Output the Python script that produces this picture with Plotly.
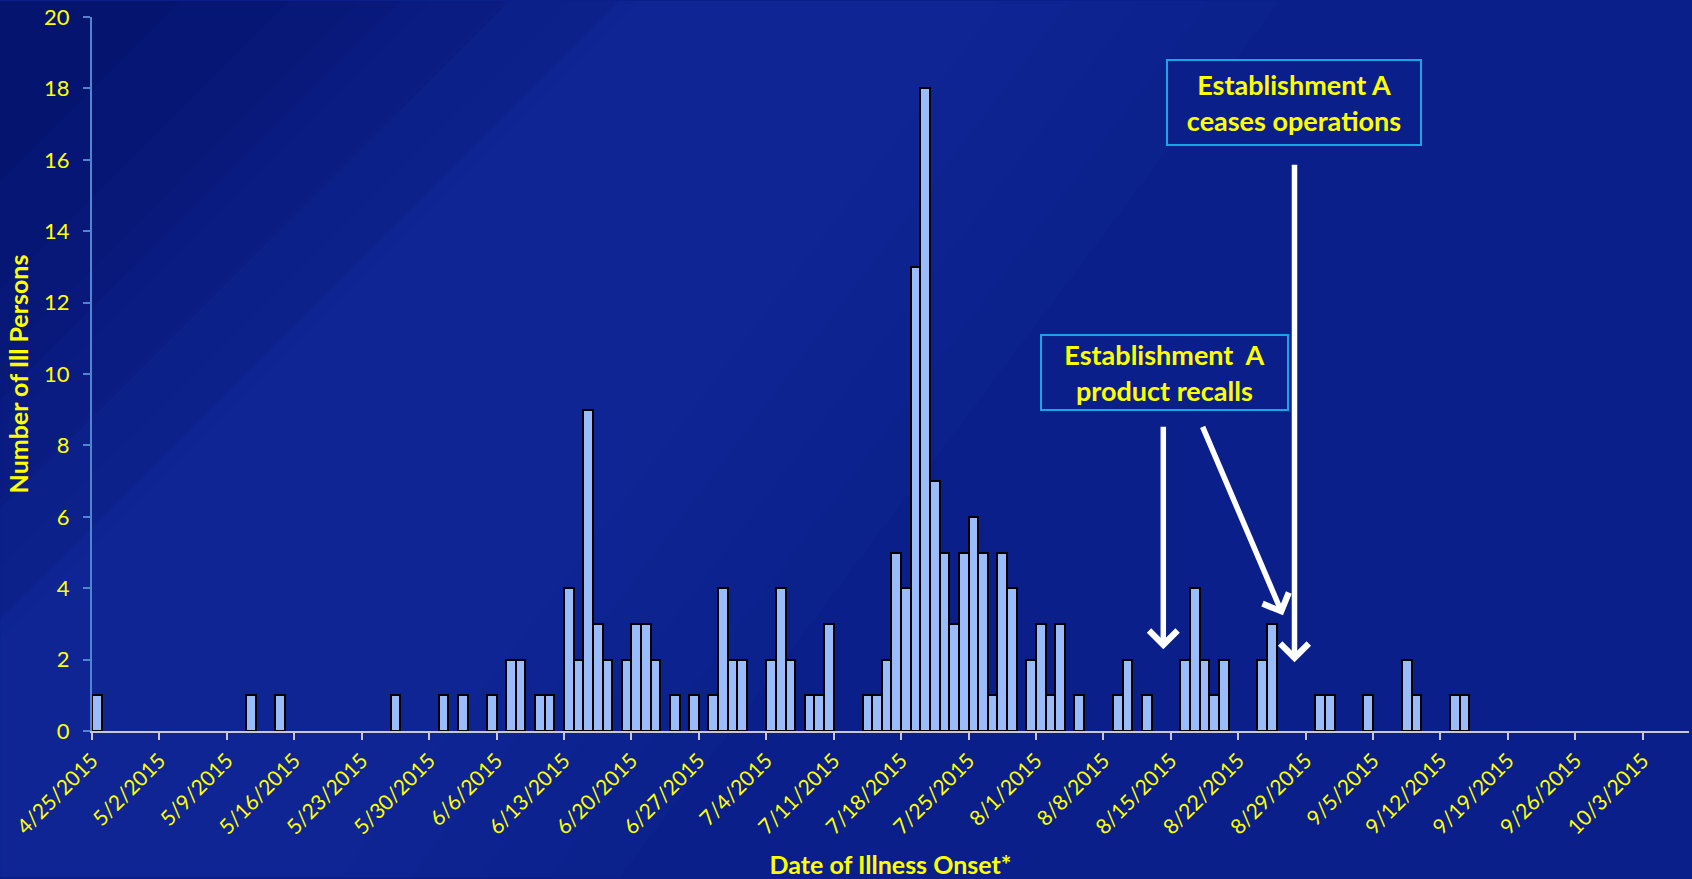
import plotly.graph_objects as go
import pandas as pd

# ---- data ----
onset_dates = [
    "2015-04-25", "2015-05-11", "2015-05-14", "2015-05-26", "2015-05-31", "2015-06-02",
    "2015-06-05", "2015-06-07", "2015-06-08", "2015-06-10", "2015-06-11", "2015-06-13",
    "2015-06-14", "2015-06-15", "2015-06-16", "2015-06-17", "2015-06-19", "2015-06-20",
    "2015-06-21", "2015-06-22", "2015-06-24", "2015-06-26", "2015-06-28", "2015-06-29",
    "2015-06-30", "2015-07-01", "2015-07-04", "2015-07-05", "2015-07-06", "2015-07-08",
    "2015-07-09", "2015-07-10", "2015-07-14", "2015-07-15", "2015-07-16", "2015-07-17",
    "2015-07-18", "2015-07-19", "2015-07-20", "2015-07-21", "2015-07-22", "2015-07-23",
    "2015-07-24", "2015-07-25", "2015-07-26", "2015-07-27", "2015-07-28", "2015-07-29",
    "2015-07-31", "2015-08-01", "2015-08-02", "2015-08-03", "2015-08-05", "2015-08-09",
    "2015-08-10", "2015-08-12", "2015-08-16", "2015-08-17", "2015-08-18", "2015-08-19",
    "2015-08-20", "2015-08-24", "2015-08-25", "2015-08-30", "2015-08-31", "2015-09-04",
    "2015-09-08", "2015-09-09", "2015-09-13", "2015-09-14",
]
ill_counts = [
    1, 1, 1, 1, 1, 1,
    1, 2, 2, 1, 1, 4,
    2, 9, 3, 2, 2, 3,
    3, 2, 1, 1, 1, 4,
    2, 2, 2, 4, 2, 1,
    1, 3, 1, 1, 2, 5,
    4, 13, 18, 7, 5, 3,
    5, 6, 5, 1, 5, 4,
    2, 3, 1, 3, 1, 1,
    2, 1, 2, 4, 2, 1,
    2, 2, 3, 1, 1, 1,
    2, 1, 1, 1,
]
tick_dates = [
    "2015-04-25", "2015-05-02", "2015-05-09", "2015-05-16", "2015-05-23", "2015-05-30",
    "2015-06-06", "2015-06-13", "2015-06-20", "2015-06-27", "2015-07-04", "2015-07-11",
    "2015-07-18", "2015-07-25", "2015-08-01", "2015-08-08", "2015-08-15", "2015-08-22",
    "2015-08-29", "2015-09-05", "2015-09-12", "2015-09-19", "2015-09-26", "2015-10-03",
]
tick_labels = [
    "4/25/2015", "5/2/2015", "5/9/2015", "5/16/2015", "5/23/2015", "5/30/2015",
    "6/6/2015", "6/13/2015", "6/20/2015", "6/27/2015", "7/4/2015", "7/11/2015",
    "7/18/2015", "7/25/2015", "8/1/2015", "8/8/2015", "8/15/2015", "8/22/2015",
    "8/29/2015", "9/5/2015", "9/12/2015", "9/19/2015", "9/26/2015", "10/3/2015",
]
y_ticks = [0, 2, 4, 6, 8, 10, 12, 14, 16, 18, 20]

# ---- layout constants ----
W, H = 1692, 879
ML, MR, MT, MB = 92, 3, 16, 147
YEL = "#ffff00"
FONT = "Lato"
BG = "#0a1f8a"

def px_x(p):
    return (p - ML) / (W - ML - MR)

def px_y(p):
    return (H - MB - p) / (H - MT - MB)

def poly(points):
    pts = [f"{px_x(a):.4f},{px_y(b):.4f}" for a, b in points]
    return "M " + " L ".join(pts) + " Z"

bar_x = [pd.Timestamp(d) + pd.Timedelta(hours=12) for d in onset_dates]

fig = go.Figure()
fig.add_trace(go.Bar(
    x=bar_x, y=ill_counts,
    width=86400000 * 1.0,
    marker=dict(color="#9bbcfa", line=dict(color="#000000", width=2)),
    hoverinfo="skip",
))

# background shading (soft layered approximation of the slide gradient)
shapes = []
for k in range(5):
    off = 70 * k
    shapes.append(dict(
        type="path", xref="paper", yref="paper", layer="below",
        path=poly([(0, 879), (0, 640 - off), (640 - off, 0), (1000 + off, 0), (340 + off, 879)]),
        fillcolor="rgba(70,110,230,0.03)", line=dict(width=0)))
for k in range(5):
    s = 620 - 110 * k
    shapes.append(dict(
        type="path", xref="paper", yref="paper", layer="below",
        path=poly([(0, 0), (s, 0), (0, s)]),
        fillcolor="rgba(0,0,50,0.07)", line=dict(width=0)))

annotations = []
# text boxes
annotations.append(dict(
    xref="paper", yref="paper", x=px_x(1294.3), y=px_y(102), xanchor="center", yanchor="middle",
    text="<b>Establishment A<br>ceases operations</b>", showarrow=False,
    font=dict(family=FONT, size=27, color=YEL), align="center",
    bordercolor="#1aa6e6", borderwidth=2, borderpad=0, width=252, height=83,
    bgcolor=BG,
))
annotations.append(dict(
    xref="paper", yref="paper", x=px_x(1164.5), y=px_y(372), xanchor="center", yanchor="middle",
    text="<b>Establishment  A<br>product recalls</b>", showarrow=False,
    font=dict(family=FONT, size=27, color=YEL), align="center",
    bordercolor="#1aa6e6", borderwidth=2, borderpad=0, width=245, height=73,
    bgcolor=BG,
))
# arrows (tip, tail offset in pixels)
arrow_specs = [
    ((1163.3, 650), (0, -224)),
    ((1283.0, 616), (-81, -190)),
    ((1294.5, 663), (0, -499)),
]
for (tx, ty), (ax, ay) in arrow_specs:
    annotations.append(dict(
        xref="paper", yref="paper", x=px_x(tx), y=px_y(ty), text="",
        showarrow=True, arrowhead=4, arrowsize=1.0, arrowwidth=5.5, arrowcolor="#ffffff",
        axref="pixel", ayref="pixel", ax=ax, ay=ay, standoff=0,
    ))

fig.update_layout(
    width=W, height=H,
    margin=dict(l=ML, r=MR, t=MT, b=MB),
    paper_bgcolor=BG, plot_bgcolor="rgba(0,0,0,0)",
    showlegend=False, bargap=0,
    shapes=shapes, annotations=annotations,
    xaxis=dict(
        type="date",
        range=[pd.Timestamp("2015-04-25"), pd.Timestamp("2015-04-25") + pd.Timedelta(days=165.8)],
        tickmode="array", tickvals=tick_dates, ticktext=tick_labels,
        tickangle=-45, tickfont=dict(family=FONT, size=21, color=YEL),
        ticklabeloverflow="allow",
        showline=True, linecolor="#c8c8d8", linewidth=2,
        ticks="outside", tickcolor="#c8c8d8", ticklen=7, tickwidth=2,
        showgrid=False, zeroline=False,
        title=dict(text="<b>Date of Illness Onset*</b>", font=dict(family=FONT, size=25, color=YEL),
                   standoff=20),
    ),
    yaxis=dict(
        range=[0, 20], tickmode="array", tickvals=y_ticks,
        tickfont=dict(family=FONT, size=22, color=YEL),
        ticklabeloverflow="allow",
        showline=True, linecolor="#4f86cf", linewidth=2,
        ticks="outside", tickcolor="#4f86cf", ticklen=7, tickwidth=2,
        ticklabelstandoff=9,
        showgrid=False, zeroline=False,
        title=dict(text="<b>Number of Ill Persons</b>", font=dict(family=FONT, size=25, color=YEL),
                   standoff=8),
    ),
)

fig.write_html("out.html")
